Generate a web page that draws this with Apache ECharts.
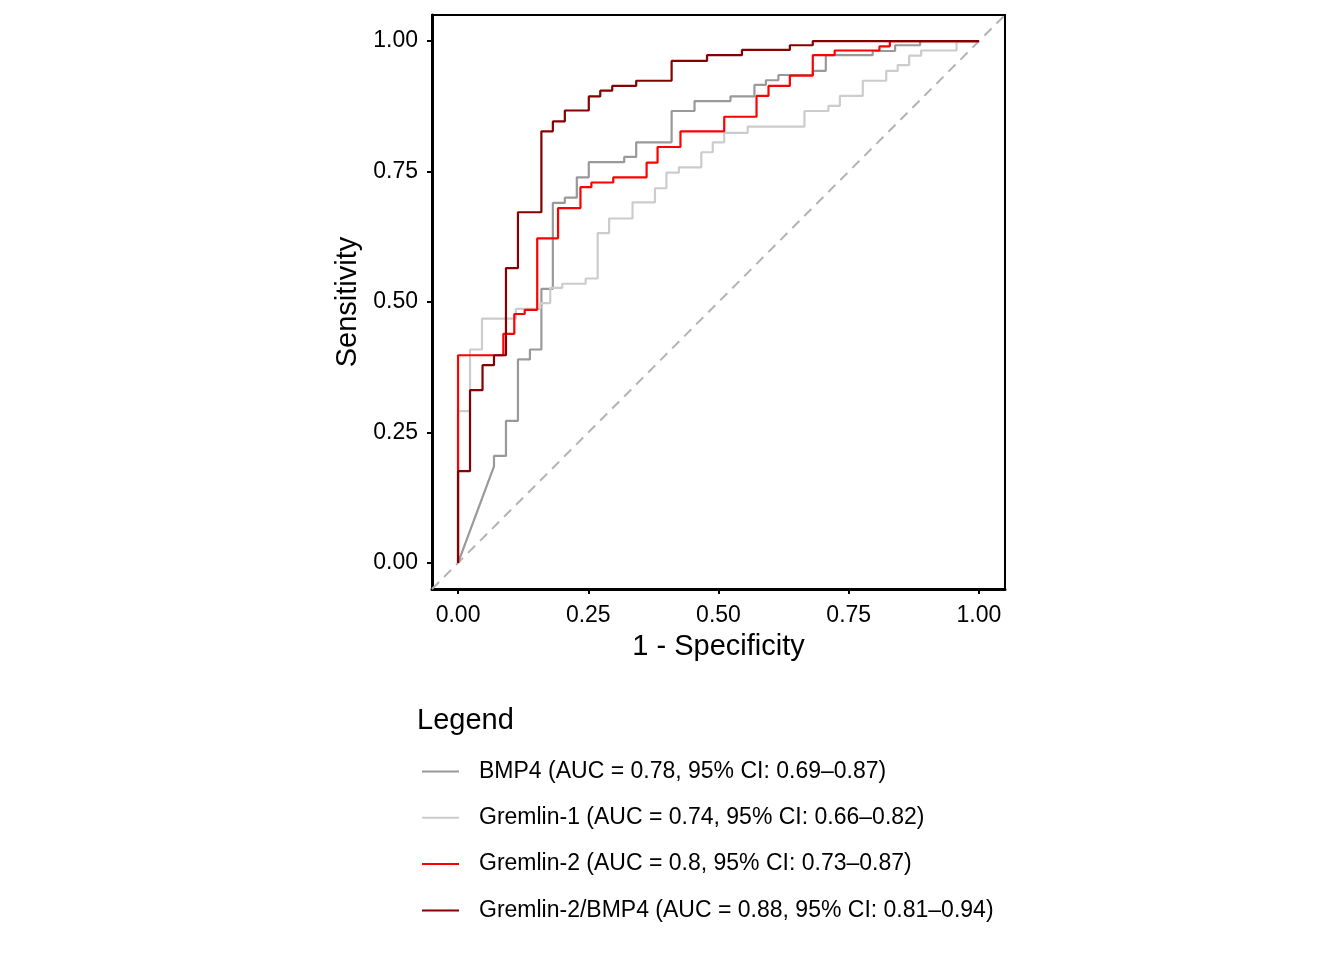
<!DOCTYPE html>
<html>
<head>
<meta charset="utf-8">
<title>ROC</title>
<script src="https://cdn.jsdelivr.net/npm/echarts@6.0.0/dist/echarts.min.js"></script>
<style>
  html,body{margin:0;padding:0;background:#fff;}
  #roc{width:1344px;height:960px;}
</style>
</head>
<body>
<div id="roc"></div>
<script>
// ROC vertices, [1 - specificity, sensitivity]
var bmp4Roc=[[0,0],[0.069,0.185],[0.069,0.205],[0.092,0.205],[0.092,0.272],[0.115,0.272],[0.115,0.390],
  [0.138,0.390],[0.138,0.409],[0.160,0.409],[0.160,0.525],[0.182,0.525],[0.182,0.690],[0.205,0.690],
  [0.205,0.700],[0.228,0.700],[0.228,0.739],[0.251,0.739],[0.251,0.768],[0.319,0.768],[0.319,0.778],
  [0.342,0.778],[0.342,0.806],[0.410,0.806],[0.410,0.866],[0.454,0.866],[0.454,0.885],[0.523,0.885],
  [0.523,0.894],[0.569,0.894],[0.569,0.916],[0.591,0.916],[0.591,0.925],[0.615,0.925],[0.615,0.935],
  [0.681,0.935],[0.681,0.943],[0.706,0.943],[0.706,0.973],[0.796,0.973],[0.796,0.981],[0.839,0.981],
  [0.839,0.992],[0.887,0.992],[0.887,1],[1,1]];
var grem1Roc=[[0,0],[0,0.291],[0.023,0.291],[0.023,0.409],[0.046,0.409],[0.046,0.468],[0.111,0.468],
  [0.111,0.487],[0.158,0.487],[0.158,0.498],[0.177,0.498],[0.177,0.527],[0.200,0.527],[0.200,0.535],
  [0.245,0.535],[0.245,0.545],[0.268,0.545],[0.268,0.632],[0.290,0.632],[0.290,0.660],[0.335,0.660],
  [0.335,0.691],[0.378,0.691],[0.378,0.718],[0.400,0.718],[0.400,0.748],[0.424,0.748],[0.424,0.758],
  [0.467,0.758],[0.467,0.787],[0.489,0.787],[0.489,0.806],[0.511,0.806],[0.511,0.824],[0.556,0.824],
  [0.556,0.836],[0.665,0.836],[0.665,0.866],[0.711,0.866],[0.711,0.876],[0.733,0.876],[0.733,0.895],
  [0.777,0.895],[0.777,0.924],[0.822,0.924],[0.822,0.943],[0.844,0.943],[0.844,0.954],[0.866,0.954],
  [0.866,0.972],[0.889,0.972],[0.889,0.982],[0.957,0.982],[0.957,1],[1,1]];
var grem2Roc=[[0,0],[0,0.398],[0.087,0.398],[0.087,0.439],[0.108,0.439],[0.108,0.477],[0.128,0.477],
  [0.128,0.485],[0.152,0.485],[0.152,0.622],[0.192,0.622],[0.192,0.680],[0.235,0.680],[0.235,0.720],
  [0.256,0.720],[0.256,0.729],[0.298,0.729],[0.298,0.739],[0.362,0.739],[0.362,0.767],[0.383,0.767],
  [0.383,0.797],[0.427,0.797],[0.427,0.827],[0.511,0.827],[0.511,0.855],[0.573,0.855],[0.573,0.895],
  [0.596,0.895],[0.596,0.914],[0.637,0.914],[0.637,0.934],[0.681,0.934],[0.681,0.973],[0.723,0.973],
  [0.723,0.982],[0.809,0.982],[0.809,0.990],[0.829,0.990],[0.829,1],[1,1]];
var comboRoc=[[0,0],[0,0.176],[0.023,0.176],[0.023,0.331],[0.047,0.331],[0.047,0.379],[0.069,0.379],
  [0.069,0.398],[0.092,0.398],[0.092,0.565],[0.115,0.565],[0.115,0.672],[0.160,0.672],[0.160,0.827],
  [0.182,0.827],[0.182,0.846],[0.205,0.846],[0.205,0.867],[0.251,0.867],[0.251,0.894],[0.273,0.894],
  [0.273,0.905],[0.296,0.905],[0.296,0.914],[0.342,0.914],[0.342,0.924],[0.410,0.924],[0.410,0.962],
  [0.478,0.962],[0.478,0.973],[0.545,0.973],[0.545,0.983],[0.637,0.983],[0.637,0.992],[0.681,0.992],
  [0.681,1],[1,1]];
// chance line
var chanceLine=[[-0.05,-0.05],[1.05,1.05]];

var seriesNames=[
  "BMP4 (AUC = 0.78, 95% CI: 0.69–0.87)",
  "Gremlin-1 (AUC = 0.74, 95% CI: 0.66–0.82)",
  "Gremlin-2 (AUC = 0.8, 95% CI: 0.73–0.87)",
  "Gremlin-2/BMP4 (AUC = 0.88, 95% CI: 0.81–0.94)"
];
var seriesData=[bmp4Roc,grem1Roc,grem2Roc,comboRoc];
var seriesColors=["#999999","#cccccc","#ff0000","#850000"];
var tickValues=[0,0.25,0.5,0.75,1];

var FONT="'Liberation Sans', Arial, sans-serif";

var series=[{
  name:"chance",
  type:"line",
  data:chanceLine,
  symbol:"none",
  silent:true,
  lineStyle:{color:"#b3b3b3",width:2,type:[10,7]}
}];
seriesData.forEach(function(d,i){
  series.push({
    name:seriesNames[i],
    type:"line",
    data:d,
    symbol:"none",
    color:seriesColors[i],
    lineStyle:{color:seriesColors[i],width:2.2}
  });
});

var axisCommon=function(name){
  return {
    type:"value",
    min:-0.05,
    max:1.05,
    name:name,
    nameLocation:"middle",
    nameTextStyle:{color:"#000",fontSize:29,fontFamily:FONT},
    splitLine:{show:false},
    axisLine:{show:true,onZero:false,lineStyle:{color:"#000",width:3}},
    axisTick:{show:true,length:5,customValues:tickValues,lineStyle:{color:"#000",width:2}},
    axisLabel:{
      customValues:tickValues,
      color:"#000",
      fontSize:23,
      fontFamily:FONT,
      formatter:function(v){return v.toFixed(2);}
    }
  };
};

var xAxis=axisCommon("1 - Specificity");
xAxis.nameGap=43;
xAxis.axisLabel.margin=15;
var yAxis=axisCommon("Sensitivity");
yAxis.nameGap=70;
yAxis.axisLabel.margin=14;
yAxis.axisLabel.padding=[4,0,0,0];

var chart=echarts.init(document.getElementById("roc"));
chart.setOption({
  animation:false,
  backgroundColor:"#fff",
  title:{
    text:"Legend",
    left:412,
    top:701,
    textStyle:{color:"#000",fontSize:29,fontWeight:"normal",fontFamily:FONT}
  },
  legend:{
    data:seriesNames,
    orient:"vertical",
    left:417,
    top:755,
    icon:"rect",
    itemWidth:37,
    itemHeight:2,
    itemGap:23.3,
    textStyle:{color:"#000",fontSize:23,lineHeight:23,fontFamily:FONT,padding:[0,0,0,15]}
  },
  grid:{left:432,right:339,top:15,bottom:371,show:true,borderColor:"#000",borderWidth:2},
  xAxis:xAxis,
  yAxis:yAxis,
  series:series
});
</script>
</body>
</html>
